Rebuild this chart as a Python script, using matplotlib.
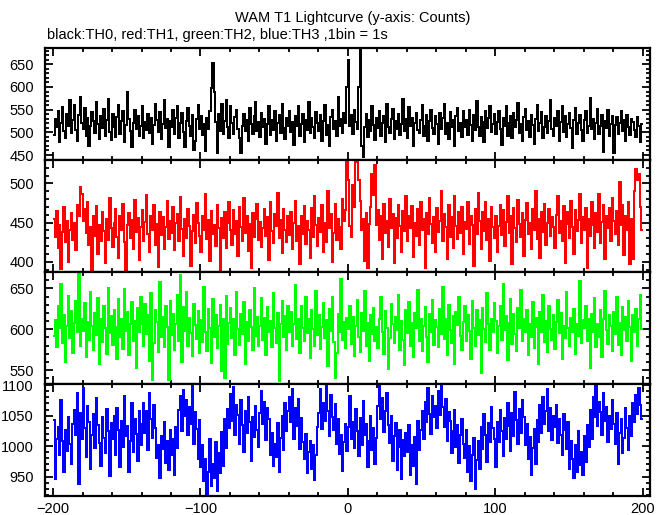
import numpy as np
import matplotlib
matplotlib.use('Agg')
import matplotlib.pyplot as plt
from matplotlib.ticker import MultipleLocator

####################################
# Donnees (counts par bin de 1 s)
####################################
t_start = -200.
bin_size = 1.

th0 = [495, 530, 512, 548, 478, 520, 556, 503, 488, 540, 515, 572, 498, 527, 561, 505, 480, 538, 579, 520,
       507, 553, 492, 531, 470, 515, 544, 526, 499, 566, 518, 486, 535, 509, 551, 492, 528, 574, 501, 483,
       541, 512, 489, 533, 560, 497, 525, 547, 479, 516, 588, 530, 503, 467, 521, 549, 508, 535, 492, 514,
       559, 487, 523, 506, 540, 498, 532, 475, 517, 562, 528, 501, 545, 486, 519, 571, 509, 530, 468, 524,
       512, 549, 496, 531, 557, 488, 520, 543, 500, 467, 526, 553, 514, 493, 538, 460, 481, 529, 560, 508,
       537, 494, 518, 459, 531, 507, 546, 598, 652, 590, 522, 455, 541, 503, 563, 497, 526, 571, 512, 488,
       558, 521, 497, 533, 549, 507, 488, 455, 515, 540, 502, 527, 481, 553, 519, 496, 535, 568, 504, 522,
       489, 543, 511, 530, 474, 518, 557, 495, 527, 505, 546, 482, 520, 538, 499, 563, 510, 486, 532, 515,
       548, 501, 523, 472, 536, 514, 559, 493, 519, 541, 478, 527, 505, 566, 498, 532, 511, 487, 545, 520,
       503, 538, 482, 526, 561, 495, 517, 469, 534, 550, 508, 524, 491, 579, 513, 530, 499, 542, 521, 600,
       660, 515, 538, 497, 550, 522, 507, 601, 695, 470, 446, 512, 541, 489, 527, 503, 558, 516, 484, 531,
       509, 547, 493, 520, 536, 478, 563, 512, 498, 529, 551, 486, 524, 507, 540, 495, 518, 573, 502, 530,
       488, 556, 515, 532, 470, 521, 543, 506, 498, 527, 560, 492, 515, 538, 481, 524, 549, 510, 496, 535,
       519, 475, 542, 508, 531, 563, 497, 520, 486, 545, 512, 528, 469, 537, 554, 503, 521, 490, 547, 511,
       527, 494, 550, 516, 482, 538, 505, 569, 512, 491, 534, 522, 478, 546, 509, 531, 557, 500, 518, 540,
       496, 523, 547, 507, 472, 531, 514, 558, 493, 520, 536, 488, 542, 511, 527, 565, 498, 519, 481, 534,
       552, 506, 525, 490, 539, 517, 474, 529, 561, 503, 520, 544, 487, 512, 535, 498, 526, 571, 508, 493,
       531, 515, 548, 480, 523, 557, 501, 536, 489, 518, 542, 510, 465, 527, 553, 496, 520, 539, 505, 482,
       528, 546, 499, 515, 576, 507, 530, 486, 521, 552, 497, 514, 538, 457, 525, 509, 549, 493, 519, 535,
       454, 516, 534, 497, 520, 548, 503, 527, 481, 539, 512, 495, 530, 522, 506, 489, 533, 514, 478, 518]

th1 = [455, 432, 465, 418, 447, 391, 438, 470, 425, 452, 400, 441, 462, 428, 449, 415, 473, 458, 495, 487,
       452, 468, 437, 476, 421, 445, 390, 459, 433, 471, 410, 447, 426, 464, 439, 398, 455, 428, 481, 443,
       419, 450, 467, 432, 405, 458, 441, 474, 425, 388, 447, 462, 430, 453, 416, 479, 438, 456, 402, 445,
       466, 427, 451, 485, 436, 412, 459, 440, 473, 421, 448, 393, 463, 434, 457, 417, 444, 478, 429, 452,
       437, 470, 415, 449, 461, 426, 483, 442, 407, 455, 431, 468, 446, 395, 439, 460, 424, 475, 450, 433,
       412, 458, 441, 487, 429, 453, 401, 465, 436, 447, 420, 472, 443, 389, 456, 431, 463, 418, 449, 477,
       440, 422, 466, 435, 452, 408, 470, 445, 426, 481, 437, 459, 414, 448, 392, 462, 432, 455, 474, 428,
       451, 419, 443, 468, 433, 457, 402, 476, 439, 424, 461, 446, 488, 430, 454, 411, 467, 441, 425, 458,
       434, 463, 417, 450, 478, 427, 446, 397, 459, 436, 471, 423, 452, 441, 405, 469, 432, 484, 447, 420,
       456, 438, 472, 412, 449, 425, 491, 443, 461, 400, 437, 474, 428, 455, 444, 416, 480, 452, 466, 540,
       505, 446, 432, 498, 470, 535, 528, 505, 478, 440, 455, 401, 462, 392, 448, 470, 512, 485, 523, 447,
       466, 428, 459, 404, 474, 437, 452, 419, 480, 443, 461, 398, 456, 431, 472, 446, 413, 465, 439, 484,
       427, 458, 443, 471, 406, 449, 433, 467, 421, 476, 440, 455, 392, 462, 435, 481, 448, 424, 457, 413,
       469, 438, 452, 490, 426, 461, 444, 403, 473, 432, 457, 418, 484, 446, 429, 463, 437, 470, 410, 451,
       442, 476, 423, 459, 447, 395, 468, 435, 488, 452, 416, 463, 439, 477, 428, 455, 401, 470, 444, 431,
       459, 412, 446, 473, 434, 466, 420, 451, 484, 437, 458, 397, 469, 443, 425, 479, 448, 432, 462, 408,
       453, 475, 436, 449, 416, 467, 441, 491, 429, 455, 405, 463, 438, 474, 422, 450, 468, 433, 457, 445,
       418, 460, 484, 437, 452, 426, 471, 399, 448, 463, 431, 478, 444, 410, 466, 439, 454, 487, 424, 457,
       441, 469, 392, 455, 433, 476, 447, 418, 462, 438, 486, 424, 451, 472, 404, 458, 443, 469, 427, 481,
       452, 436, 465, 421, 502, 447, 473, 409, 459, 440, 476, 397, 455, 404, 490, 518, 505, 512, 470, 440]

th2 = [592, 611, 578, 628, 601, 655, 583, 617, 560, 604, 641, 589, 622, 571, 608, 635, 596, 668, 579, 613,
       598, 632, 566, 609, 587, 646, 604, 575, 620, 593, 638, 557, 612, 584, 629, 601, 570, 651, 595, 616,
       581, 624, 603, 563, 637, 590, 613, 576, 649, 598, 621, 568, 607, 633, 585, 610, 552, 626, 597, 640,
       606, 579, 631, 594, 617, 561, 644, 538, 583, 623, 609, 572, 658, 591, 615, 578, 628, 603, 538, 634,
       593, 619, 574, 606, 642, 586, 666, 560, 627, 598, 645, 580, 614, 595, 567, 631, 605, 588, 622, 571,
       611, 584, 652, 596, 573, 625, 602, 559, 637, 590, 618, 577, 604, 630, 549, 613, 540, 641, 582, 608,
       626, 589, 612, 568, 646, 600, 581, 619, 594, 633, 557, 609, 585, 624, 603, 575, 650, 592, 615, 579,
       604, 638, 587, 614, 569, 627, 596, 610, 578, 644, 601, 583, 620, 537, 607, 635, 590, 616, 574, 629,
       597, 621, 580, 606, 654, 588, 613, 571, 629, 602, 586, 640, 595, 612, 565, 623, 600, 579, 647, 593,
       618, 576, 603, 632, 589, 611, 555, 625, 598, 640, 584, 540, 571, 619, 596, 662, 587, 609, 577, 614,
       600, 628, 582, 615, 567, 604, 636, 591, 572, 620, 598, 647, 580, 608, 561, 617, 594, 626, 585, 603,
       577, 612, 639, 596, 570, 622, 601, 551, 589, 631, 606, 583, 615, 599, 642, 574, 610, 587, 556, 624,
       595, 633, 579, 608, 566, 620, 602, 648, 585, 613, 573, 604, 627, 590, 560, 619, 597, 636, 581, 611,
       603, 578, 625, 594, 652, 588, 612, 569, 630, 599, 583, 616, 557, 621, 605, 640, 592, 574, 609, 628,
       586, 617, 598, 564, 635, 602, 579, 623, 593, 611, 546, 626, 600, 584, 644, 607, 575, 613, 596, 632,
       610, 571, 604, 629, 587, 655, 599, 616, 562, 608, 637, 582, 619, 594, 573, 626, 601, 648, 585, 612,
       597, 624, 568, 606, 591, 633, 577, 614, 603, 558, 621, 596, 642, 584, 610, 572, 629, 600, 587, 618,
       576, 609, 636, 595, 620, 563, 604, 589, 646, 601, 580, 614, 597, 625, 570, 607, 592, 659, 583, 611,
       602, 628, 585, 613, 553, 619, 596, 638, 578, 607, 590, 623, 566, 612, 647, 599, 582, 617, 604, 573,
       621, 594, 640, 581, 608, 569, 627, 599, 615, 586, 634, 603, 561, 618, 597, 625, 580, 612, 642, 600]

th3 = [1043, 946, 1012, 1031, 985, 1075, 1008, 958, 1026, 992, 1048, 1003, 971, 1037, 1060, 1019, 1088, 937, 1054, 1011,
       1095, 1029, 982, 1066, 1040, 963, 1018, 1052, 997, 1079, 1034, 1005, 968, 1047, 1013, 989, 1061, 1024, 951, 1038,
       1011, 1050, 985, 1063, 1027, 966, 1041, 998, 1082, 1016, 1033, 957, 1009, 1070, 991, 1044, 1020, 975, 1057, 1002,
       1036, 1071, 1022, 1058, 994, 1087, 1045, 1013, 1068, 1030, 981, 1002, 948, 1017, 995, 1039, 972, 1008, 961, 1026,
       985, 1012, 953, 1031, 997, 1060, 1083, 1024, 1092, 1049, 1076, 1018, 1065, 1037, 1100, 1004, 1056, 1028, 979, 1043,
       966, 1001, 942, 978, 919, 958, 1012, 935, 971, 947, 1006, 926, 989, 955, 1023, 968, 1044, 997, 1061, 1030,
       1085, 1042, 1097, 1019, 1068, 1051, 1003, 1076, 1034, 990, 1058, 1022, 1081, 1040, 976, 1047, 1015, 1066, 1027, 998,
       1054, 1091, 1036, 1072, 1010, 1063, 1045, 986, 1021, 968, 1003, 982, 1038, 957, 1014, 1049, 993, 1071, 1025, 1058,
       1080, 1039, 1094, 1011, 1062, 1033, 1077, 995, 1046, 1007, 978, 1020, 955, 990, 1009, 962, 1001, 944, 985, 1032,
       1055, 1093, 1028, 1070, 1041, 1099, 1057, 1016, 1084, 1048, 1026, 1069, 1003, 1045, 987, 1018, 959, 1007, 1036, 992,
       1031, 1083, 1012, 1040, 997, 1061, 1025, 983, 1046, 1002, 1074, 1019, 1037, 965, 1008, 1050, 994, 1029, 971, 1013,
       1066, 1098, 1044, 1079, 1023, 1057, 1088, 1035, 1005, 1049, 975, 1016, 1038, 961, 998, 1027, 946, 1010, 984, 1021,
       990, 1034, 952, 1001, 968, 1015, 937, 1042, 993, 1026, 1058, 1011, 1072, 1039, 1095, 1053, 1020, 1083, 1047, 1066,
       1029, 1090, 1051, 1100, 1064, 1032, 1077, 1008, 1056, 1041, 989, 1024, 1060, 999, 1035, 972, 1018, 1045, 1003, 981,
       1027, 958, 1000, 943, 986, 1014, 929, 977, 1009, 962, 1031, 995, 1052, 1019, 974, 1038, 1006, 1065, 1030, 1012,
       966, 1039, 1007, 1059, 1024, 983, 1046, 1011, 1070, 1033, 992, 1055, 1017, 1089, 1043, 1004, 1061, 1022, 1076, 1048,
       1002, 1036, 979, 1015, 953, 997, 1028, 970, 1043, 1006, 1067, 1021, 1081, 1037, 1058, 1094, 1025, 1063, 1010, 1049,
       1032, 1068, 1005, 1044, 1019, 985, 1053, 1027, 996, 1040, 963, 1009, 978, 948, 1001, 957, 1024, 969, 991, 952,
       1016, 974, 1035, 998, 1059, 1012, 1080, 1047, 1099, 1033, 1072, 1056, 1018, 1087, 1041, 1064, 1006, 1050, 1028, 1076,
       1037, 1003, 1055, 970, 1021, 1044, 989, 1013, 1062, 1030, 994, 1049, 1017, 1071, 1040, 1084, 1053, 1096, 1068, 1045]

courbes = [th0, th1, th2, th3]
couleurs = ['black', 'red', '#00ff00', 'blue']
ylims = [(439, 686), (387, 530), (533, 670), (918, 1102)]
yticks = [[450, 500, 550, 600, 650], [400, 450, 500], [550, 600, 650], [950, 1000, 1050, 1100]]

titre = 'WAM T1 Lightcurve (y-axis: Counts)'
sous_titre = 'black:TH0, red:TH1, green:TH2, blue:TH3 ,1bin = 1s'

##################################
# Cosmetique
##################################
plt.rcParams['font.family'] = 'Liberation Sans'
plt.rcParams['font.size'] = 10.5
plt.rcParams['axes.linewidth'] = 1.6
plt.rcParams['xtick.direction'] = 'in'
plt.rcParams['ytick.direction'] = 'in'

####################################
# Trace
####################################
W, H = 669., 515.
fig = plt.figure(figsize=(W/100, H/100), dpi=100)
fig.text(353/W, 1 - 18/H, titre, ha='center', va='center', fontsize=10.5)
fig.text(47/W, 1 - 35/H, sous_titre, ha='left', va='center', fontsize=10.5)

x0, x1 = 45., 650.
haut, h = 48., 112.
for k, (y, c) in enumerate(zip(courbes, couleurs)):
    t = t_start + bin_size*(np.arange(len(y)) + 0.5)
    ax = fig.add_axes([x0/W, 1 - (haut + h*(k+1))/H, (x1-x0)/W, h/H])
    ax.plot(t, y, color=c, linewidth=1.15, drawstyle='steps-mid',
            antialiased=False)
    ax.set_xlim(-205.5, 205)
    ax.set_ylim(*ylims[k])
    ax.set_yticks(yticks[k])
    ax.xaxis.set_major_locator(MultipleLocator(100))
    ax.xaxis.set_minor_locator(MultipleLocator(20))
    ax.yaxis.set_minor_locator(MultipleLocator(10))
    ax.tick_params(which='both', top=True, right=True, width=1.3)
    ax.tick_params(which='major', length=6)
    ax.tick_params(which='minor', length=3)
    ax.tick_params(axis='y', pad=8)
    ax.tick_params(axis='x', pad=4)
    if k < 3:
        ax.set_xticklabels([])

plt.savefig('out.png', dpi=100)
print('OK')
